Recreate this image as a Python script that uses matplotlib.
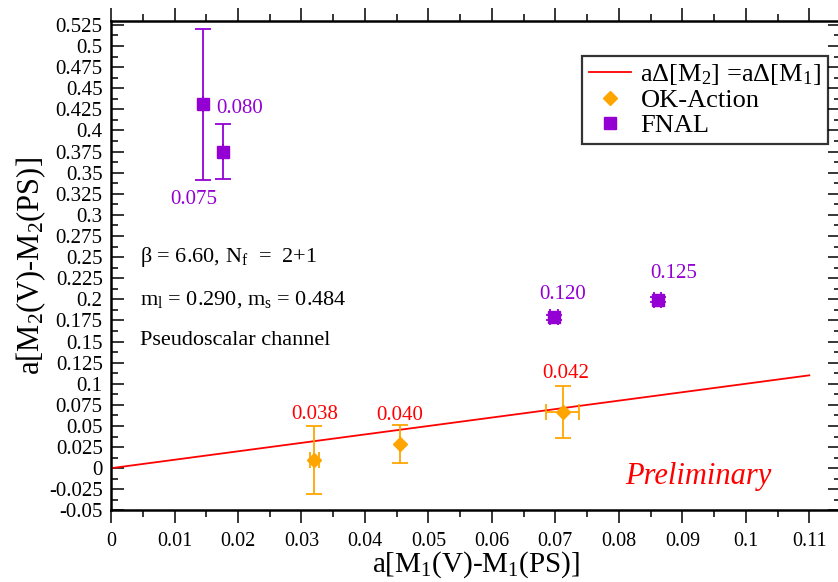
import numpy as np
import matplotlib
matplotlib.use("Agg")
import matplotlib.pyplot as plt
from matplotlib.lines import Line2D

plt.rcParams["font.family"] = ["Liberation Serif", "DejaVu Serif"]
plt.rcParams["mathtext.fontset"] = "custom"
plt.rcParams["mathtext.rm"] = "Liberation Serif"
plt.rcParams["mathtext.it"] = "Liberation Serif:italic"

# ============================================================
# DATA
# ============================================================

ok_x = [0.0320, 0.0455, 0.0712]
ok_y = [0.0097, 0.0283, 0.0662]
ok_xerr = [0.0007, 0.0, 0.0026]
ok_yerr = [0.0400, 0.0227, 0.0310]
ok_labels = ["0.038", "0.040", "0.042"]
ok_label_pos = [(0.0321, 0.0631), (0.0455, 0.0622), (0.0717, 0.1117)]

fnal_x = [0.01445, 0.0176, 0.0698, 0.0861]
fnal_y = [0.4308, 0.3747, 0.1785, 0.1995]
fnal_xerr = [0.0, 0.0, 0.0006, 0.0006]
fnal_yerr = [0.0890, 0.0326, 0.0030, 0.0030]
fnal_labels = ["0.075", "0.080", "0.120", "0.125"]
fnal_label_pos = [(0.0131, 0.318), (0.0203, 0.426), (0.0711, 0.2055), (0.0887, 0.2304)]

line_x = [0.0, 0.11]

x_ticks = np.arange(0, 0.1101, 0.01)
y_ticks = np.arange(-0.05, 0.5251, 0.025)

orange = "#FFA500"
purple = "#9400D3"

# ============================================================
# PLOT
# ============================================================

fig = plt.figure(figsize=(8.38, 5.82), dpi=100)
ax = fig.add_axes([0.1325, 0.123, 0.8711, 0.8414])

ax.plot(line_x, line_x, color="red", lw=1.3, zorder=2)

ax.errorbar(ok_x, ok_y, xerr=ok_xerr, yerr=ok_yerr, fmt="D", ms=7,
            color=orange, ecolor=orange, elinewidth=1.3, capsize=6,
            capthick=1.3, zorder=3)

ax.errorbar(fnal_x, fnal_y, xerr=fnal_xerr, yerr=fnal_yerr, fmt="s", ms=8,
            color=purple, ecolor=purple, elinewidth=1.3, capsize=6,
            capthick=1.3, zorder=3)

for lab, (tx, ty) in zip(ok_labels, ok_label_pos):
    ax.text(tx, ty, lab, color="red", fontsize=15, ha="center", va="center")

for lab, (tx, ty) in zip(fnal_labels, fnal_label_pos):
    ax.text(tx, ty, lab, color=purple, fontsize=15, ha="center", va="center")

ax.text(0.0046, 0.2506, "β = 6.60, N$_\\mathrm{f}$  =  2+1", fontsize=16, va="center")
ax.text(0.0046, 0.1996, "m$_\\mathrm{l}$ = 0.290, m$_\\mathrm{s}$ = 0.484", fontsize=16, va="center")
ax.text(0.0046, 0.1509, "Pseudoscalar channel", fontsize=16, va="center")

ax.text(0.0925, -0.0104, "Preliminary", color="red", fontsize=22,
        fontstyle="italic", ha="center", va="center")

# --------------------------------------------------------
# Axes
# --------------------------------------------------------

ax.set_xlim(0, 0.115)
ax.set_ylim(-0.05, 0.53)

ax.set_xticks(x_ticks)
ax.set_xticklabels([f"{v:g}" for v in np.round(x_ticks, 3)])
ax.set_xticks(np.arange(0.005, 0.115, 0.01), minor=True)

ax.set_yticks(y_ticks)
ax.set_yticklabels([f"{v:g}" for v in np.round(y_ticks, 3)])
ax.set_yticks(np.arange(-0.0375, 0.53, 0.025), minor=True)

ax.tick_params(axis="x", which="both", direction="out", top=True, bottom=True,
               labelsize=14.5, pad=6)
ax.tick_params(axis="y", which="both", direction="in", left=True, right=True,
               labelsize=15, pad=6)
ax.tick_params(which="major", length=9.5, width=1.1)
ax.tick_params(which="minor", length=5, width=1.1)

for sp in ax.spines.values():
    sp.set_linewidth(1.8)

ax.set_xlabel("a[M$_1$(V)-M$_1$(PS)]", fontsize=21)
ax.xaxis.set_label_coords(0.5, -0.079)
ax.set_ylabel("a[M$_2$(V)-M$_2$(PS)]", fontsize=22)
ax.yaxis.set_label_coords(-0.087, 0.5)

handles = [
    Line2D([], [], color="red", lw=1.3),
    Line2D([], [], color=orange, marker="D", ls="none", ms=7),
    Line2D([], [], color=purple, marker="s", ls="none", ms=8),
]
leg = ax.legend(handles,
                ["aΔ[M$_2$] =aΔ[M$_1$]", "OK-Action", "FNAL"],
                loc="upper right", bbox_to_anchor=(0.982, 0.9285),
                fontsize=19, frameon=True, fancybox=False,
                edgecolor="black", handlelength=1.6, handletextpad=0.35,
                labelspacing=0.05, borderpad=0.25, borderaxespad=0)
leg.get_frame().set_linewidth(1.6)

plt.savefig("out.png", dpi=100)
plt.close()
